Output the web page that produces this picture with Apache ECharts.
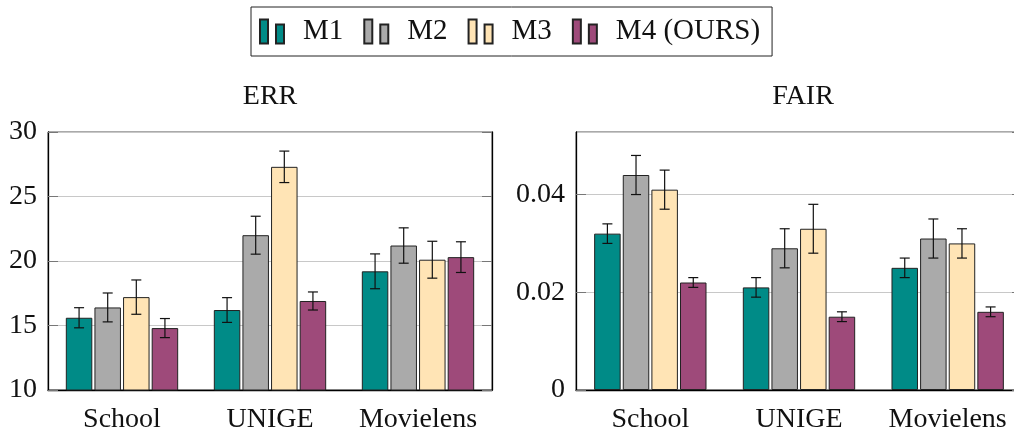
<!DOCTYPE html>
<html>
<head>
<meta charset="utf-8">
<script src="https://cdn.jsdelivr.net/npm/echarts@6/dist/echarts.min.js"></script>
<style>
html,body{margin:0;padding:0;background:#fff;overflow:hidden;}
#chart{width:1024px;height:440px;}
</style>
</head>
<body>
<div id="chart"></div>
<script>
const categories = ['School', 'UNIGE', 'Movielens'];
const methods = ['M1', 'M2', 'M3', 'M4 (OURS)'];
const colors = ['#008B87', '#AAAAAA', '#FFE4B5', '#9E4A7A'];

// ERR panel: means and errors per method (School, UNIGE, Movielens)
const errM1 = [15.6, 16.2, 19.2];
const errM2 = [16.4, 22.0, 21.2];
const errM3 = [17.2, 27.3, 20.1];
const errM4 = [14.8, 16.9, 20.3];
const errM1e = [0.78, 0.96, 1.35];
const errM2e = [1.12, 1.47, 1.37];
const errM3e = [1.33, 1.22, 1.43];
const errM4e = [0.74, 0.70, 1.19];

// FAIR panel
const fairM1 = [0.032, 0.021, 0.025];
const fairM2 = [0.044, 0.029, 0.031];
const fairM3 = [0.041, 0.033, 0.030];
const fairM4 = [0.022, 0.015, 0.016];
const fairM1e = [0.002, 0.002, 0.002];
const fairM2e = [0.004, 0.004, 0.004];
const fairM3e = [0.004, 0.005, 0.003];
const fairM4e = [0.001, 0.001, 0.001];

const errTicks = {min: 10, max: 30, interval: 5};
const fairTicks = {min: 0, max: 0.0528, interval: 0.02};

const FONT = "'Liberation Serif', 'DejaVu Serif', serif";
const BAR_W = 26.5;
const BAR_GAP = 0.08;
const STEP = BAR_W * (1 + BAR_GAP);

const errMeans = [errM1, errM2, errM3, errM4];
const errErrs = [errM1e, errM2e, errM3e, errM4e];
const fairMeans = [fairM1, fairM2, fairM3, fairM4];
const fairErrs = [fairM1e, fairM2e, fairM3e, fairM4e];

function errData(means, errs) {
  const out = [];
  means.forEach((arr, k) => {
    arr.forEach((v, i) => out.push([i, v - errs[k][i], v + errs[k][i], k]));
  });
  return out;
}

function renderErr(params, api) {
  const cat = api.value(0), lo = api.value(1), hi = api.value(2), k = api.value(3);
  const pLo = api.coord([cat, lo]);
  const pHi = api.coord([cat, hi]);
  const x = pLo[0] + (k - 1.5) * STEP;
  const st = {stroke: '#111', lineWidth: 1.2};
  const cw = 5;
  return {
    type: 'group',
    children: [
      {type: 'line', shape: {x1: x, y1: pLo[1], x2: x, y2: pHi[1]}, style: st},
      {type: 'line', shape: {x1: x - cw, y1: pLo[1], x2: x + cw, y2: pLo[1]}, style: st},
      {type: 'line', shape: {x1: x - cw, y1: pHi[1], x2: x + cw, y2: pHi[1]}, style: st}
    ]
  };
}

function fairFmt(v) {
  if (Math.abs(v) < 1e-9) return '0';
  const r = v / 0.02;
  if (Math.abs(r - Math.round(r)) < 1e-6) return v.toFixed(2);
  return '';
}

const series = [];
[[errMeans, 0], [fairMeans, 1]].forEach(([means, g]) => {
  means.forEach((arr, k) => {
    series.push({
      name: methods[k], type: 'bar', xAxisIndex: g, yAxisIndex: g,
      data: arr, barWidth: BAR_W, barGap: (BAR_GAP * 100) + '%',
      itemStyle: {color: colors[k], borderColor: '#222', borderWidth: 1},
      emphasis: {disabled: true}, z: 2
    });
  });
});
series.push({type: 'custom', xAxisIndex: 0, yAxisIndex: 0, renderItem: renderErr,
  data: errData(errMeans, errErrs), z: 5, silent: true});
series.push({type: 'custom', xAxisIndex: 1, yAxisIndex: 1, renderItem: renderErr,
  data: errData(fairMeans, fairErrs), z: 5, silent: true});

const baseX = (g) => ({
  type: 'category', gridIndex: g, data: categories,
  axisTick: {show: false},
  axisLine: {lineStyle: {color: '#000', width: 1.3}},
  axisLabel: {fontFamily: FONT, fontSize: 28, color: '#111', margin: 16, interval: 0}
});

const yLeft = (g, t, fmt) => ({
  type: 'value', gridIndex: g, min: t.min, max: t.max, interval: t.interval,
  position: 'left',
  axisLine: {show: true, lineStyle: {color: '#000', width: 1.3}},
  axisTick: {show: true, inside: true, length: 10, lineStyle: {color: '#777'}},
  splitLine: {show: true, lineStyle: {color: '#c8c8c8', width: 1}},
  axisLabel: {fontFamily: FONT, fontSize: 28, color: '#111', margin: 11,
    formatter: fmt, showMaxLabel: g === 0}
});
const yRight = (g, t) => ({
  type: 'value', gridIndex: g, min: t.min, max: t.max, interval: t.interval,
  position: 'right',
  axisLine: {show: true, lineStyle: {color: '#000', width: 1.3}},
  axisTick: {show: true, inside: true, length: 10, lineStyle: {color: '#777'}},
  splitLine: {show: false},
  axisLabel: {show: false}
});

const chart = echarts.init(document.getElementById('chart'), null, {renderer: 'canvas'});
chart.setOption({
  animation: false,
  backgroundColor: '#fff',
  color: colors,
  legend: {
    data: methods,
    left: 251, top: 7,
    padding: [10, 12, 10, 8],
    borderColor: '#222', borderWidth: 1,
    itemWidth: 24, itemHeight: 24, itemGap: 20,
    icon: 'path://M0,0H8V24H0Z M16,5H24V24H16Z',
    textStyle: {fontFamily: FONT, fontSize: 29, color: '#111', padding: [0, 0, 0, 14]},
    selectedMode: false
  },
  graphic: [
    {type: 'text', x: 270, y: 97, style: {text: 'ERR', fontFamily: FONT, fontSize: 28,
      fill: '#111', textAlign: 'center', textVerticalAlign: 'middle'}},
    {type: 'text', x: 803, y: 97, style: {text: 'FAIR', fontFamily: FONT, fontSize: 28,
      fill: '#111', textAlign: 'center', textVerticalAlign: 'middle'}}
  ],
  grid: [
    {left: 48, top: 132, width: 444, height: 258, show: true, borderColor: '#555', borderWidth: 1},
    {left: 576, top: 132, width: 446, height: 258, show: true, borderColor: '#555', borderWidth: 1}
  ],
  xAxis: [baseX(0), baseX(1)],
  yAxis: [
    yLeft(0, errTicks, null),
    yLeft(1, fairTicks, fairFmt),
    yRight(0, errTicks),
    yRight(1, fairTicks)
  ],
  series: series
});
</script>
</body>
</html>
